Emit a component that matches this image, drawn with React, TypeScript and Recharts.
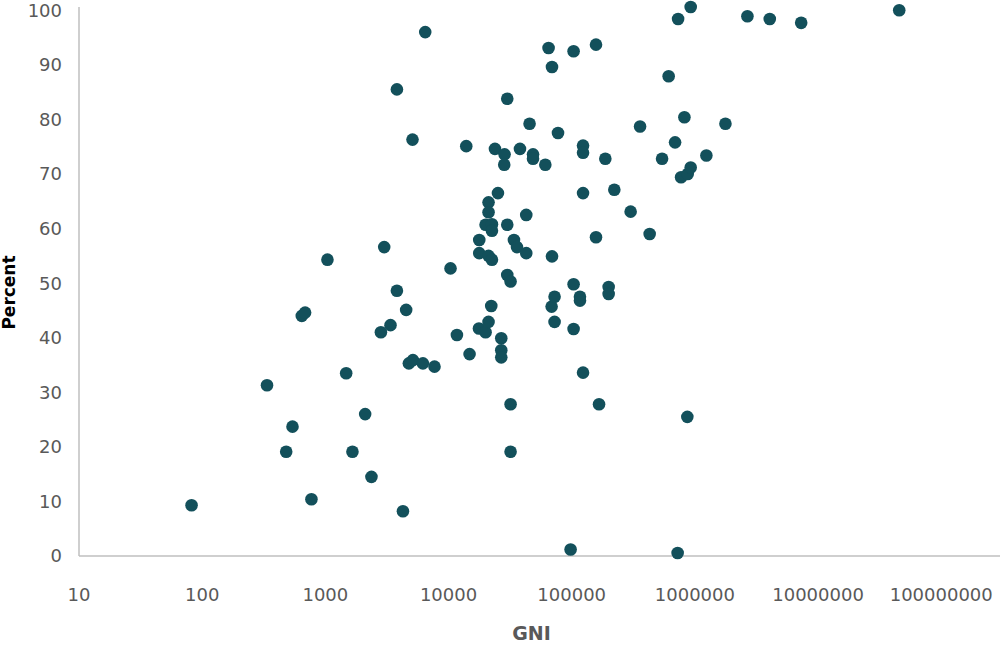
import { ScatterChart, Scatter, XAxis, YAxis, Label } from "recharts";

// GNI (x, log scale) and Percent (y), point by point
const gni = [
  82, 336, 481, 541, 771, 644, 685, 1040, 1476, 1660, 2105, 2368, 2825, 3005, 3380, 3810, 3810, 4265,
  4530, 4765, 5100, 5140, 6195, 6470, 7695, 10380, 11700, 13930, 14820, 17660, 17760, 17760, 19990,
  19990, 21130, 21130, 21130, 21130, 22230, 22520, 22520, 22520, 23820, 25190, 26800, 26800, 26800,
  28510, 28330, 29980, 29980, 29980, 31900, 31900, 31900, 33970, 35950, 38020, 42760, 42760, 45500,
  48520, 48520, 61050, 64890, 69180, 69180, 68700, 72600, 72600, 77400, 97970, 103600, 103600, 103600,
  116700, 116700, 123600, 123600, 123600, 123600, 157500, 157500, 166700, 187500, 199500, 199500,
  221800, 300900, 358900, 429500, 541700, 612500, 690600, 724400, 730700, 772700, 822200, 874600,
  868600, 924700, 924700, 1240000, 1770000, 2670000, 4055000, 7295000, 45600000,
];

const percent = [
  9.3, 31.3, 19.1, 23.7, 10.4, 44.0, 44.6, 54.3, 33.5, 19.1, 26.0, 14.5, 41.0, 56.6, 42.3, 85.5, 48.6, 8.2,
  45.1, 35.3, 76.3, 35.9, 35.3, 96.0, 34.7, 52.7, 40.5, 75.1, 37.0, 41.7, 57.9, 55.5, 60.7,
  41.0, 64.8, 63.0, 55.0, 42.9, 45.8, 60.8, 59.6, 54.3, 74.6, 66.5, 39.9, 37.7, 36.4,
  73.6, 71.7, 83.8, 60.7, 51.5, 50.3, 27.8, 19.1, 57.9, 56.6, 74.6, 62.5, 55.5, 79.2,
  73.6, 72.8, 71.7, 93.1, 89.6, 54.9, 45.7, 47.5, 42.9, 77.5, 1.2, 92.5, 49.8, 41.6,
  47.5, 46.8, 75.2, 73.9, 66.5, 33.6, 93.7, 58.4, 27.8, 72.8, 49.3, 48.0,
  67.1, 63.1, 78.7, 59.0, 72.8, 87.9, 75.8, 0.55, 98.4, 69.4, 80.4, 70.0,
  25.5, 100.6, 71.2, 73.4, 79.2, 98.9, 98.4, 97.7, 100.0,
];

const xTicks = [10, 100, 1000, 10000, 100000, 1000000, 10000000, 100000000];
const yTicks = [0, 10, 20, 30, 40, 50, 60, 70, 80, 90, 100];

const points = gni.map((g, i) => ({ gni: g, percent: percent[i] }));

const FONT = "'DejaVu Sans', sans-serif";
const tickStyle = { fill: "#595959", fontSize: 18, fontFamily: FONT };
const DOT = "#13505b";

const Dot = (props: any) => <circle cx={props.cx} cy={props.cy} r={6.3} fill={DOT} />;

export default function App() {
  return (
    <div>
      <style>{"body{margin:0}"}</style>
      <ScatterChart width={1000} height={647} margin={{ top: 7, right: 0, bottom: 0, left: 0 }}>
        <XAxis
          dataKey="gni"
          type="number"
          scale="log"
          domain={[10, 300000000]}
          ticks={xTicks}
          interval={0}
          height={91}
          tick={tickStyle}
          tickLine={false}
          tickSize={0}
          tickMargin={32}
          axisLine={{ stroke: "#bfbfbf", strokeWidth: 1.5 }}
        >
          <Label
            content={({ viewBox }: any) => (
              <text
                x={viewBox.x + viewBox.width / 2 - 8}
                y={viewBox.y + 84}
                textAnchor="middle"
                fill="#595959"
                fontFamily={FONT}
                fontWeight="bold"
                fontSize={19}
              >
                GNI
              </text>
            )}
          />
        </XAxis>
        <YAxis
          dataKey="percent"
          type="number"
          domain={[0, 100]}
          ticks={yTicks}
          interval={0}
          width={79}
          tick={tickStyle}
          tickLine={false}
          tickSize={0}
          tickMargin={17}
          axisLine={{ stroke: "#bfbfbf", strokeWidth: 1.5 }}
        >
          <Label
            content={({ viewBox }: any) => {
              const cx = viewBox.x + 9;
              const cy = viewBox.y + viewBox.height / 2 + 11;
              return (
                <text
                  x={cx}
                  y={cy}
                  dy="0.36em"
                  transform={`rotate(-90 ${cx} ${cy})`}
                  textAnchor="middle"
                  fill="#000000"
                  fontFamily={FONT}
                  fontWeight="bold"
                  fontSize={17}
                >
                  Percent
                </text>
              );
            }}
          />
        </YAxis>
        <Scatter data={points} fill={DOT} shape={Dot} isAnimationActive={false} />
      </ScatterChart>
    </div>
  );
}
